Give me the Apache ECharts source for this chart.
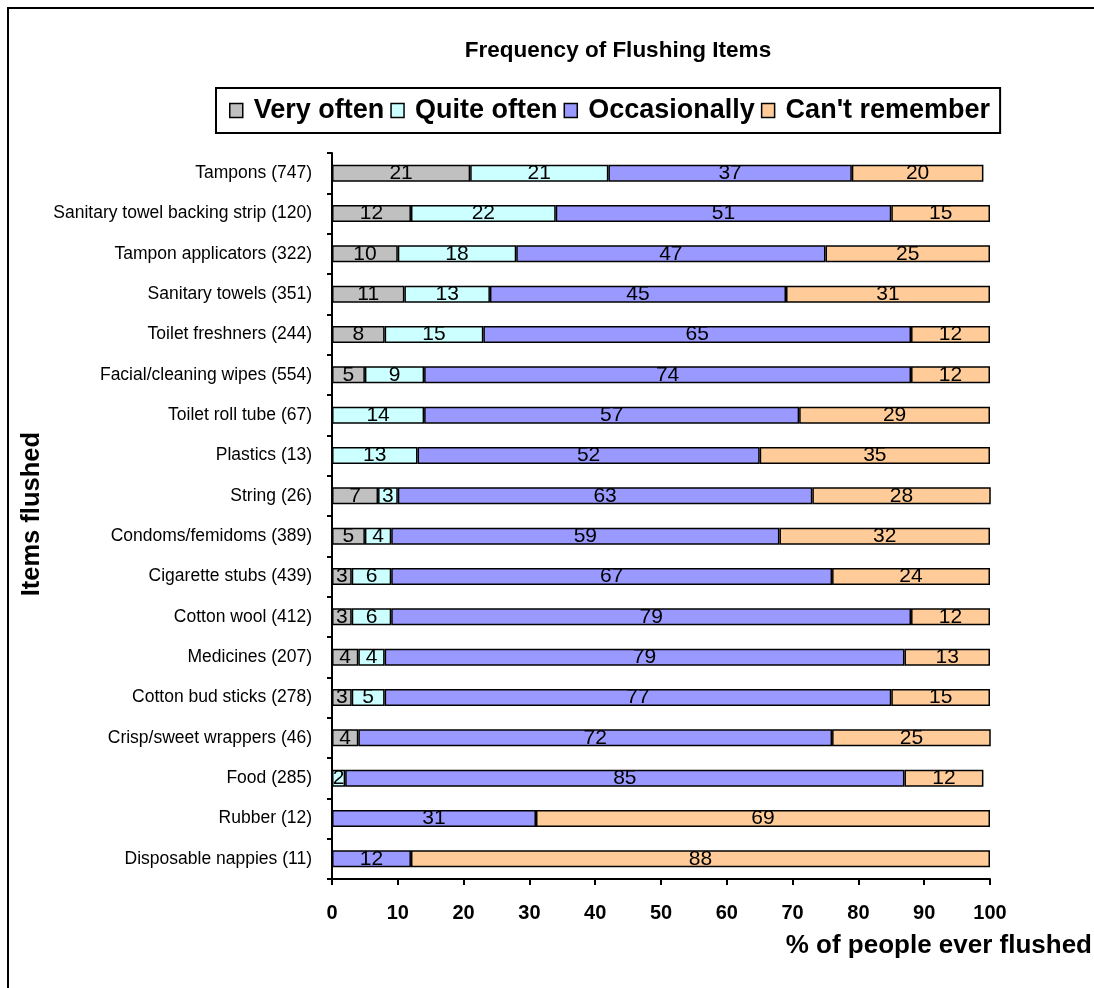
<!DOCTYPE html>
<html>
<head>
<meta charset="utf-8">
<script src="https://cdn.jsdelivr.net/npm/echarts@6/dist/echarts.min.js"></script>
<style>
  html, body { margin: 0; padding: 0; background: #fff; }
  #chart { width: 1094px; height: 988px; }
</style>
</head>
<body>
<div id="chart"></div>
<script>
// Items, top to bottom, with respondent counts
const items = [
  'Tampons (747)',
  'Sanitary towel backing strip (120)',
  'Tampon applicators (322)',
  'Sanitary towels (351)',
  'Toilet freshners (244)',
  'Facial/cleaning wipes (554)',
  'Toilet roll tube (67)',
  'Plastics (13)',
  'String (26)',
  'Condoms/femidoms (389)',
  'Cigarette stubs (439)',
  'Cotton wool (412)',
  'Medicines (207)',
  'Cotton bud sticks (278)',
  'Crisp/sweet wrappers (46)',
  'Food (285)',
  'Rubber (12)',
  'Disposable nappies (11)'
];

// Percent of people who ever flushed each item, by frequency (null = none)
const veryOften    = [21, 12, 10, 11, 8, 5, null, null, 7, 5, 3, 3, 4, 3, 4, null, null, null];
const quiteOften   = [21, 22, 18, 13, 15, 9, 14, 13, 3, 4, 6, 6, 4, 5, null, 2, null, null];
const occasionally = [37, 51, 47, 45, 65, 74, 57, 52, 63, 59, 67, 79, 79, 77, 72, 85, 31, 12];
const cantRemember = [20, 15, 25, 31, 12, 12, 29, 35, 28, 32, 24, 12, 13, 15, 25, 12, 69, 88];

const xTicks = [0, 10, 20, 30, 40, 50, 60, 70, 80, 90, 100];

const FONT = '"Liberation Sans", Arial, sans-serif';

function segment(name, data, color) {
  return {
    name: name,
    type: 'bar',
    stack: 'total',
    data: data,
    barWidth: 17,
    itemStyle: { color: color, borderColor: '#000', borderWidth: 1.5 },
    label: {
      show: true,
      position: 'inside',
      color: '#000',
      fontSize: 21,
      fontFamily: FONT,
      formatter: p => (p.value == null ? '' : String(p.value))
    },
    emphasis: { disabled: true }
  };
}

const chart = echarts.init(document.getElementById('chart'), null, { renderer: 'canvas' });

chart.setOption({
  backgroundColor: '#fff',
  animation: false,
  title: {
    text: 'Frequency of Flushing Items',
    left: 613,
    textAlign: 'center',
    top: 34,
    textStyle: { fontFamily: FONT, fontWeight: 'bold', fontSize: 22.5, color: '#000' }
  },
  legend: {
    left: 216,
    top: 88,
    orient: 'horizontal',
    itemWidth: 13,
    itemHeight: 14,
    itemGap: 6,
    padding: [9, 10, 9, 13],
    borderColor: '#000',
    borderWidth: 2,
    icon: 'rect',
    itemStyle: { borderColor: '#000', borderWidth: 1.5 },
    textStyle: { fontFamily: FONT, fontWeight: 'bold', fontSize: 27, color: '#000', padding: [0, 0, 0, 6] },
    data: ['Very often', 'Quite often', 'Occasionally', "Can't remember"]
  },
  grid: { left: 332, right: 104, top: 153, bottom: 109, containLabel: false },
  xAxis: {
    type: 'value',
    min: 0,
    max: 100,
    interval: 10,
    axisLine: { show: true, lineStyle: { color: '#000', width: 2 } },
    axisTick: { show: true, length: 6, lineStyle: { color: '#000', width: 2 } },
    splitLine: { show: false },
    axisLabel: {
      margin: 24,
      color: '#000',
      fontFamily: FONT,
      fontWeight: 'bold',
      fontSize: 20,
      formatter: v => (xTicks.indexOf(v) >= 0 ? String(v) : '')
    }
  },
  yAxis: {
    type: 'category',
    inverse: true,
    data: items,
    axisLine: { show: true, lineStyle: { color: '#000', width: 2 } },
    axisTick: { show: true, length: 5, lineStyle: { color: '#000', width: 2 } },
    axisLabel: { margin: 20, color: '#000', fontFamily: FONT, fontSize: 17.5 }
  },
  series: [
    segment('Very often', veryOften, '#C0C0C0'),
    segment('Quite often', quiteOften, '#CCFFFF'),
    segment('Occasionally', occasionally, '#9999FF'),
    segment("Can't remember", cantRemember, '#FFCC99')
  ],
  graphic: [
    {
      type: 'rect',
      silent: true,
      z: -10,
      shape: { x: 8, y: 8, width: 1200, height: 1200 },
      style: { fill: 'none', stroke: '#000', lineWidth: 2 }
    },
    {
      type: 'text',
      silent: true,
      left: 19,
      top: 432,
      rotation: Math.PI / 2,
      style: {
        text: 'Items flushed',
        font: 'bold 25.5px ' + FONT,
        fill: '#000'
      }
    },
    {
      type: 'text',
      silent: true,
      right: 2,
      top: 933,
      style: {
        text: '% of people ever flushed',
        font: 'bold 26px ' + FONT,
        fill: '#000'
      }
    }
  ]
});
</script>
</body>
</html>
